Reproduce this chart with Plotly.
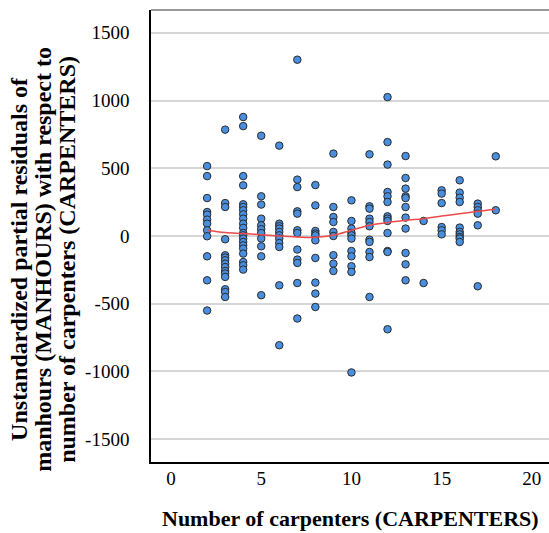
import plotly.graph_objects as go

# ---- data ----
carpenter_counts = [2, 3, 4, 5, 6, 7, 8, 9, 10, 11, 12, 13, 14, 15, 16, 17, 18]
residuals_by_count = [
    [516, 442, 280, 177, 158, 121, 91, 42, -2, -150, -327, -550],
    [785, 243, 214, -24, -142, -159, -179, -204, -229, -258, -277, -302, -393, -413, -450],
    [878, 811, 442, 374, 234, 214, 190, 160, 128, 91, 60, 22, 5, -19, -44, -69, -93, -130, -192, -216, -248],
    [740, 293, 232, 128, 79, 50, 22, -19, -76, -150, -437],
    [667, 91, 72, 55, 30, 5, -19, -52, -81, -364, -806],
    [1301, 416, 361, 182, 165, 42, 22, -100, -174, -199, -347, -609],
    [376, 226, 37, 18, 5, -32, -162, -344, -425, -524],
    [608, 214, 140, 103, 30, 0, -142, -204, -258],
    [263, 111, 55, 22, 5, -19, -111, -150, -223, -265, -1007],
    [603, 219, 202, 128, 103, 72, -27, -44, -118, -155, -450],
    [1025, 693, 527, 325, 293, 251, 145, 128, 111, 22, -111, -118, -688],
    [590, 428, 350, 293, 280, 214, 136, 55, -125, -209, -327],
    [111, -347],
    [337, 313, 243, 66, 42, 12],
    [411, 320, 283, 251, 62, 30, 12, -7, -19, -44],
    [239, 214, 190, 165, 79, -371],
    [588, 190],
]
fit_x = [2, 3, 4, 5, 6, 7, 8, 9, 10, 11, 12, 13, 14, 15, 16, 17, 18]
fit_y = [42, 25, 18, 10, 0, -7, -10, 5, 42, 79, 99, 116, 128, 147, 165, 182, 197]

x_ticks = [0, 5, 10, 15, 20]
x_tick_labels = ["0", "5", "10", "15", "20"]
y_ticks = [-1500, -1000, -500, 0, 500, 1000, 1500]
y_tick_labels = ["-1500", "-1000", "-500", "0", "500", "1000", "1500"]

xs, ys = [], []
for c, vals in zip(carpenter_counts, residuals_by_count):
    for v in vals:
        xs.append(c)
        ys.append(v)

FONT = "Liberation Serif"
TICKFONT = dict(family=FONT, size=19, color="black")

fig = go.Figure()
fig.add_trace(go.Scatter(
    x=xs, y=ys, mode="markers",
    marker=dict(size=7.5, color="#4a8fdf", line=dict(color="#2a2a2a", width=1)),
    showlegend=False, hoverinfo="skip",
))
fig.add_trace(go.Scatter(
    x=fit_x, y=fit_y, mode="lines", line=dict(color="#ee4a4a", width=1.5, shape="spline"),
    showlegend=False, hoverinfo="skip",
))

W, H = 549, 533
L, R, T, B = 150.5, 0, 9.5, 71
fig.update_layout(
    width=W, height=H,
    margin=dict(l=L, r=R, t=T, b=B, pad=0),
    paper_bgcolor="white", plot_bgcolor="white",
    font=dict(family=FONT, size=19, color="black"),
    xaxis=dict(
        range=[-1.11, 20.95], tickvals=x_ticks, ticktext=x_tick_labels,
        showgrid=False, zeroline=False,
        showline=True, linecolor="black", linewidth=1.5, ticks="",
        tickfont=TICKFONT, ticklabelstandoff=-2,
    ),
    yaxis=dict(
        range=[-1668, 1668], tickvals=y_ticks, ticktext=y_tick_labels,
        showgrid=True, gridcolor="#d6d6d6",
        gridwidth=1.5, zeroline=False, showline=True, linecolor="black", linewidth=1.5,
        ticks="", tickfont=TICKFONT, ticklabelstandoff=16,
    ),
    shapes=[dict(type="line", xref="paper", yref="paper", x0=0, x1=1, y0=1, y1=1,
                 line=dict(color="#777777", width=1.5))],
)

plot_h = H - T - B
def py(pix):
    return (H - B - pix) / plot_h
plot_w = W - L - R
def px(pix):
    return (pix - L) / plot_w

ytitle_lines = [
    "Unstandardized partial residuals of",
    "manhours (MANHOURS) with respect to",
    "number of carpenters (CARPENTERS)",
]
for line, xc in zip(ytitle_lines, [19, 43, 67]):
    fig.add_annotation(
        text="<b>%s</b>" % line, xref="paper", yref="paper",
        x=px(xc), y=py(259), showarrow=False, textangle=-90,
        xanchor="center", yanchor="middle",
        font=dict(family=FONT, size=24, color="black"),
    )

fig.add_annotation(
    text="<b>Number of carpenters (CARPENTERS)</b>", xref="paper", yref="paper",
    x=px(350), y=py(519), showarrow=False, xanchor="center", yanchor="middle",
    font=dict(family=FONT, size=22, color="black"),
)

fig.write_html("out.html")
